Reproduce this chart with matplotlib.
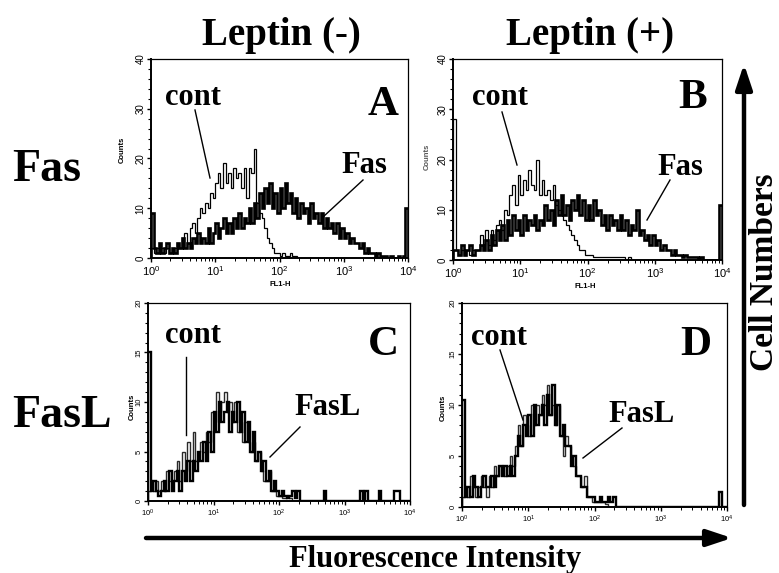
import numpy as np
import matplotlib
matplotlib.use("Agg")
import matplotlib.pyplot as plt
from matplotlib.lines import Line2D
from matplotlib.patches import FancyArrowPatch
from matplotlib.ticker import MultipleLocator, LogLocator, LogFormatterSciNotation, NullFormatter

plt.rcParams['font.family'] = ['Liberation Sans', 'DejaVu Sans']
plt.rcParams['mathtext.default'] = 'regular'

W, H = 779, 573

# ---------------- data (counts per channel, 100 log channels over 10^0..10^4) ----------------
decades = [0, 4]
n_channels = 100

a_cont = [2, 1, 2, 1, 2, 1, 2, 1, 1, 2, 3, 2, 4, 5, 3, 6, 7, 5, 8, 10,
          9, 11, 10, 13, 12, 15, 17, 14, 19, 15, 17, 14, 18, 16, 17, 14, 18, 12, 18, 17,
          22, 11, 9, 8, 6, 4, 3, 2, 1, 1, 0.5, 1, 0.5, 0.5, 1, 0.5, 0.5, 0, 0, 0,
          0, 0, 0, 0, 0, 0, 0, 0, 0, 0, 0, 0, 0, 0, 0, 0, 0, 0, 0, 0,
          0, 0, 0, 0, 0, 0, 0, 0, 0, 0, 0, 0, 0, 0, 0, 0, 0, 0, 0, 0]
a_fas = [9, 2, 1, 3, 1, 2, 3, 1, 2, 1, 3, 2, 4, 2, 3, 2, 4, 3, 5, 3,
         4, 3, 6, 3, 5, 7, 4, 6, 8, 5, 7, 5, 8, 6, 9, 6, 8, 7, 10, 7,
         11, 8, 13, 10, 14, 11, 15, 10, 13, 9, 14, 10, 15, 11, 13, 9, 12, 8, 11, 9,
         10, 7, 11, 8, 9, 7, 9, 6, 8, 6, 7, 5, 7, 4, 6, 4, 5, 3, 4, 3,
         3, 2, 3, 1, 2, 1, 1, 0.5, 1, 0.5, 0.5, 0.5, 0, 0.5, 0, 0, 0.5, 0, 0.5, 10]

b_cont = [28, 2, 1, 2, 1, 2, 1, 2, 2, 2, 5, 3, 6, 3, 6, 4, 7, 8, 6, 10,
          9, 13, 15, 11, 17, 13, 16, 14, 18, 15, 14, 20, 13, 16, 13, 14, 12, 15, 11, 10,
          9, 8, 7, 6, 5, 4, 3, 2, 2, 1, 1, 1, 0.5, 0.5, 0.5, 0.5, 0.5, 0.5, 0.5, 0.5,
          0.5, 0.5, 0.5, 0.5, 0, 0.5, 0, 0, 0, 0, 0, 0, 0, 0, 0, 0, 0, 0, 0, 0,
          0, 0, 0, 0, 0, 0, 0, 0, 0, 0, 0, 0, 0, 0, 0, 0, 0, 0, 0, 0]
b_fas = [2, 2, 1, 3, 1, 2, 3, 1, 2, 2, 3, 2, 4, 2, 5, 3, 6, 4, 7, 4,
         8, 5, 9, 6, 8, 5, 9, 6, 8, 7, 9, 6, 8, 7, 11, 8, 10, 7, 12, 9,
         13, 9, 11, 8, 12, 10, 13, 9, 12, 8, 11, 8, 12, 9, 10, 7, 9, 6, 9, 7,
         8, 6, 9, 6, 8, 5, 7, 6, 10, 5, 6, 4, 5, 3, 5, 3, 4, 2, 3, 2,
         2, 1, 2, 1, 1, 0.5, 1, 0.5, 0.5, 0.5, 0.5, 0, 0.5, 0, 0, 0, 0, 0, 0, 11]

c_cont = [1, 2, 1, 2, 1, 2, 1, 3, 2, 2, 3, 4, 2, 5, 3, 6, 4, 7, 4, 5,
          6, 5, 7, 6, 9, 8, 11, 9, 10, 11, 9, 10, 8, 10, 7, 8, 6, 8, 6, 5,
          6, 4, 5, 3, 2, 2, 3, 1, 1, 0.5, 0.5, 0.3, 0.3, 0.5, 0.3, 0, 0, 0, 0, 0,
          0, 0, 0, 0, 0, 0, 0, 0, 0, 0, 0, 0, 0, 0, 0, 0, 0, 0, 0, 0,
          0, 0, 0, 0, 0, 0, 0, 0, 0, 0, 0, 0, 0, 0, 0, 0, 0, 0, 0, 0]
c_fasl = [15, 1, 2, 1, 0.5, 1, 2, 1, 3, 1, 2, 3, 1, 3, 2, 4, 2, 4, 3, 5,
          4, 6, 4, 7, 5, 9, 7, 10, 8, 9, 10, 7, 9, 8, 10, 7, 9, 6, 8, 5,
          7, 4, 5, 3, 4, 2, 3, 1, 2, 1, 0.5, 1, 0.5, 0.3, 0.5, 1, 0.3, 1, 0, 0,
          0, 0, 0, 0, 0, 0, 0, 1, 0, 0, 0, 0, 0, 0, 0, 0, 0, 0, 0, 0,
          0, 1, 0, 1, 0, 0, 0, 0, 1, 0, 0, 0, 0, 0, 1, 1, 0, 0, 0, 0]

d_cont = [1, 2, 1, 3, 2, 1, 2, 3, 2, 1, 3, 2, 4, 3, 4, 4, 3, 4, 5, 4,
          6, 8, 6, 9, 8, 7, 10, 8, 10, 9, 11, 10, 12, 9, 10, 8, 10, 7, 5, 7,
          6, 5, 4, 3, 3, 2, 3, 1, 1, 0.5, 0.5, 0.5, 0.5, 0.5, 0.3, 0, 0, 0, 0, 0,
          0, 0, 0, 0, 0, 0, 0, 0, 0, 0, 0, 0, 0, 0, 0, 0, 0, 0, 0, 0,
          0, 0, 0, 0, 0, 0, 0, 0, 0, 0, 0, 0, 0, 0, 0, 0, 0, 0, 0, 0]
d_fasl = [10.5, 1, 2, 1, 3, 2, 1, 2, 3, 2, 2, 3, 2, 3, 4, 3, 4, 3, 4, 3,
          5, 7, 6, 8, 7, 9, 7, 10, 8, 9, 10, 8, 11, 9, 12, 8, 10, 7, 8, 6,
          6, 4, 5, 3, 3, 2, 2, 1, 1, 1, 0.5, 0.5, 1, 0.5, 0.5, 1, 0.5, 1, 0, 0,
          0, 0, 0, 0, 0, 0, 0, 0, 0, 0, 0, 0, 0, 0, 0, 0, 0, 0, 0, 0,
          0, 0, 0, 0, 0, 0, 0, 0, 0, 0, 0, 0, 0, 0, 0, 0, 0, 1.5, 0, 0]

col_titles = ["Leptin (-)", "Leptin (+)"]
row_titles = ["Fas", "FasL"]
panel_letters = ["A", "B", "C", "D"]
y_max = [40, 40, 20, 20]
y_major = [10, 10, 5, 5]
y_minor = [2, 2, 1, 1]

edges = np.logspace(decades[0], decades[1], n_channels + 1)

fig = plt.figure(figsize=(W / 100, H / 100), dpi=100)
fig.patch.set_facecolor('white')


def fx(px):
    return px / W


def fy(py):
    return 1 - py / H


def add_ax(x0, y0, x1, y1):
    return fig.add_axes([fx(x0), fy(y1), fx(x1) - fx(x0), fy(y0) - fy(y1)])


boxes = [(151, 59, 408, 258), (453, 59, 722, 260), (148, 303, 410, 501), (462, 303, 727, 507)]
series = [(a_cont, a_fas), (b_cont, b_fas), (c_cont, c_fasl), (d_cont, d_fasl)]
axes = []
for k, (box, (cont, pos)) in enumerate(zip(boxes, series)):
    ax = add_ax(*box)
    axes.append(ax)
    big = k < 2
    if big:
        ax.stairs(cont, edges, color='black', lw=0.9)
        ax.stairs(pos, edges, color='black', lw=1.9)
    else:
        ax.stairs(cont, edges, color='#2a2a2a', lw=1.0)
        ax.stairs(pos, edges, color='black', lw=1.7)
    ax.set_xscale('log')
    ax.set_xlim(1, 10000)
    ax.set_ylim(0, y_max[k])
    ax.yaxis.set_major_locator(MultipleLocator(y_major[k]))
    ax.yaxis.set_minor_locator(MultipleLocator(y_minor[k]))
    ax.xaxis.set_major_locator(LogLocator(base=10, numticks=10))
    ax.xaxis.set_minor_locator(LogLocator(base=10, subs=np.arange(2, 10), numticks=10))
    ax.xaxis.set_minor_formatter(NullFormatter())
    ax.xaxis.set_major_formatter(LogFormatterSciNotation())
    lsize = 8 if big else 5.5
    ax.tick_params(axis='y', which='major', direction='out', length=3, width=1,
                   labelsize=(7 if big else 5.5), labelrotation=90, pad=1)
    ax.tick_params(axis='y', which='minor', direction='out', length=2, width=0.8)
    ax.tick_params(axis='x', which='major', direction='out', length=3, width=1,
                   labelsize=lsize, pad=1.5)
    ax.tick_params(axis='x', which='minor', direction='out', length=1.8, width=0.7)
    for lbl in ax.get_yticklabels():
        lbl.set_va('center')
    for s in ['left', 'bottom']:
        ax.spines[s].set_linewidth(1.4)
    for s in ['top', 'right']:
        ax.spines[s].set_linewidth(0.9)

serif = dict(family=['Liberation Serif', 'DejaVu Serif'], weight='bold')


def ftext(px, py, s, size, ha='center', va='baseline', rot=0):
    fig.text(fx(px), fy(py), s, fontsize=size, ha=ha, va=va, rotation=rot, **serif)


def fline(p0, p1, lw=1.0):
    fig.add_artist(Line2D([fx(p0[0]), fx(p1[0])], [fy(p0[1]), fy(p1[1])],
                          transform=fig.transFigure, color='black', lw=lw))


# column and row titles
ftext(281, 45, col_titles[0], 28)
ftext(590, 45, col_titles[1], 28)
ftext(12, 181, row_titles[0], 33, ha='left')
ftext(12, 427, row_titles[1], 33, ha='left')

# panel letters
ftext(383, 115, panel_letters[0], 31)
ftext(693, 108, panel_letters[1], 31)
ftext(383, 355, panel_letters[2], 31)
ftext(696, 355, panel_letters[3], 31)

# curve labels and pointers
ftext(193, 105, "cont", 22)
fline((195, 110), (210, 178))
ftext(364, 173, "Fas", 22)
fline((363, 180), (323, 217))

ftext(500, 105, "cont", 22)
fline((502, 112), (517, 165))
ftext(680, 175, "Fas", 22)
fline((670, 180), (647, 220))

ftext(193, 343, "cont", 22)
fline((186, 357), (186, 435))
ftext(328, 415, "FasL", 22)
fline((300, 427), (270, 457))

ftext(499, 345, "cont", 22)
fline((500, 350), (523, 420))
ftext(642, 422, "FasL", 22)
fline((622, 428), (583, 458))

# small instrument labels
small = dict(family=['Liberation Sans', 'DejaVu Sans'], weight='bold', fontsize=5.5)
fig.text(fx(280), fy(285), "FL1-H", ha='center', va='center', **small)
fig.text(fx(585), fy(286), "FL1-H", ha='center', va='center', **small)
fig.text(fx(122), fy(150), "Counts", ha='center', va='center', rotation=90, **small)
fig.text(fx(427), fy(157), "Counts", ha='center', va='center', rotation=90, color='#555555', **small)
fig.text(fx(132), fy(407), "Counts", ha='center', va='center', rotation=90, **small)
fig.text(fx(443), fy(408), "Counts", ha='center', va='center', rotation=90, **small)

# big axis arrows
arr_x = FancyArrowPatch((fx(146), fy(538)), (fx(732), fy(538)), transform=fig.transFigure,
                        arrowstyle='-|>,head_length=15,head_width=5', lw=3.2, color='black',
                        mutation_scale=1, shrinkA=0, shrinkB=0)
fig.add_artist(arr_x)
arr_y = FancyArrowPatch((fx(744), fy(505)), (fx(744), fy(64)), transform=fig.transFigure,
                        arrowstyle='-|>,head_length=15,head_width=5', lw=3.2, color='black',
                        mutation_scale=1, shrinkA=0, shrinkB=0)
fig.add_artist(arr_y)
ftext(435, 567, "Fluorescence Intensity", 22)
fig.text(fx(773), fy(272), "Cell Numbers", fontsize=24, ha='center', va='baseline',
         rotation=90, rotation_mode='anchor', **serif)

fig.savefig("out.png", dpi=100, facecolor='white')
